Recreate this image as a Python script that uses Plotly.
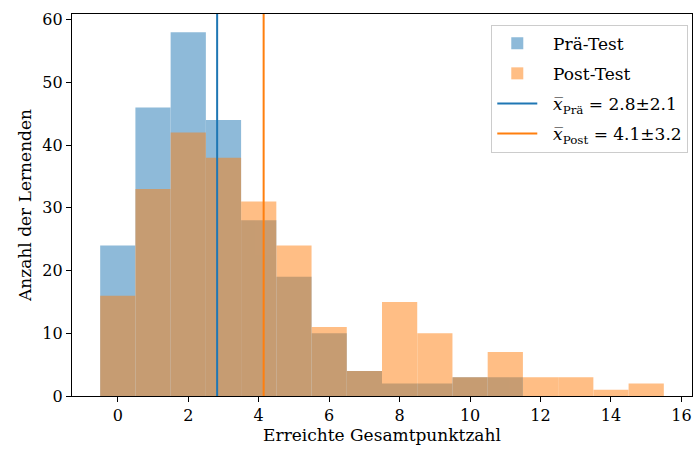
import plotly.graph_objects as go

scores = list(range(16))
pre_counts = [24, 46, 58, 44, 28, 19, 10, 4, 2, 2, 3, 3, 0, 0, 0, 0]
post_counts = [16, 33, 42, 38, 31, 24, 11, 4, 15, 10, 3, 7, 3, 3, 1, 2]
pre_mean, pre_sd = 2.82, 2.1
post_mean, post_sd = 4.14, 3.2

x_range = [-1.3, 16.3]
y_range = [0, 60.9]

FONT = "DejaVu Serif"
blue = "#1f77b4"
orange = "#ff7f0e"
PAD = "\u00a0\u00a0"

fig = go.Figure()
fig.add_trace(go.Bar(x=scores, y=pre_counts, width=1, name=PAD + "Prä-Test", legendgroup="a",
                     marker=dict(color=blue, line=dict(width=0)), opacity=0.5))
fig.add_trace(go.Bar(x=scores, y=post_counts, width=1, name=PAD + "Post-Test", legendgroup="b",
                     marker=dict(color=orange, line=dict(width=0)), opacity=0.5))
fig.add_trace(go.Scatter(x=[pre_mean, pre_mean], y=y_range, mode="lines", legendgroup="c",
                         line=dict(color=blue, width=2),
                         name=PAD + f"<i>x̅</i><sub>Prä</sub> = {pre_mean:.1f}±{pre_sd:.1f}"))
fig.add_trace(go.Scatter(x=[post_mean, post_mean], y=y_range, mode="lines", legendgroup="d",
                         line=dict(color=orange, width=2),
                         name=PAD + f"<i>x̅</i><sub>Post</sub> = {post_mean:.1f}±{post_sd:.1f}"))

axis_common = dict(showline=True, linecolor="black", linewidth=1.2, mirror=True,
                   ticks="outside", ticklen=5, tickwidth=1.2, tickcolor="black",
                   showgrid=False, zeroline=False,
                   tickfont=dict(family=FONT, size=16, color="black"))
fig.update_layout(
    barmode="overlay",
    width=694, height=457,
    margin=dict(l=72, r=2, t=14, b=61),
    plot_bgcolor="white", paper_bgcolor="white",
    font=dict(family=FONT, size=16, color="black"),
    xaxis=dict(range=x_range, tickmode="array", tickvals=list(range(0, 17, 2)),
               title=dict(text="Erreichte Gesamtpunktzahl", font=dict(family=FONT, size=17), standoff=4),
               **axis_common),
    yaxis=dict(range=y_range, tickmode="array", tickvals=list(range(0, 61, 10)),
               title=dict(text="Anzahl der Lernenden", font=dict(family=FONT, size=17), standoff=6),
               **axis_common),
    legend=dict(x=0.994, y=0.972, xanchor="right", yanchor="top",
                bgcolor="rgba(255,255,255,0.85)", bordercolor="#cccccc", borderwidth=1,
                font=dict(family=FONT, size=17), tracegroupgap=5, itemwidth=40),
    showlegend=True,
)
fig.write_html("out.html", config={"displayModeBar": False},
               post_script="document.body.style.margin='0';")
